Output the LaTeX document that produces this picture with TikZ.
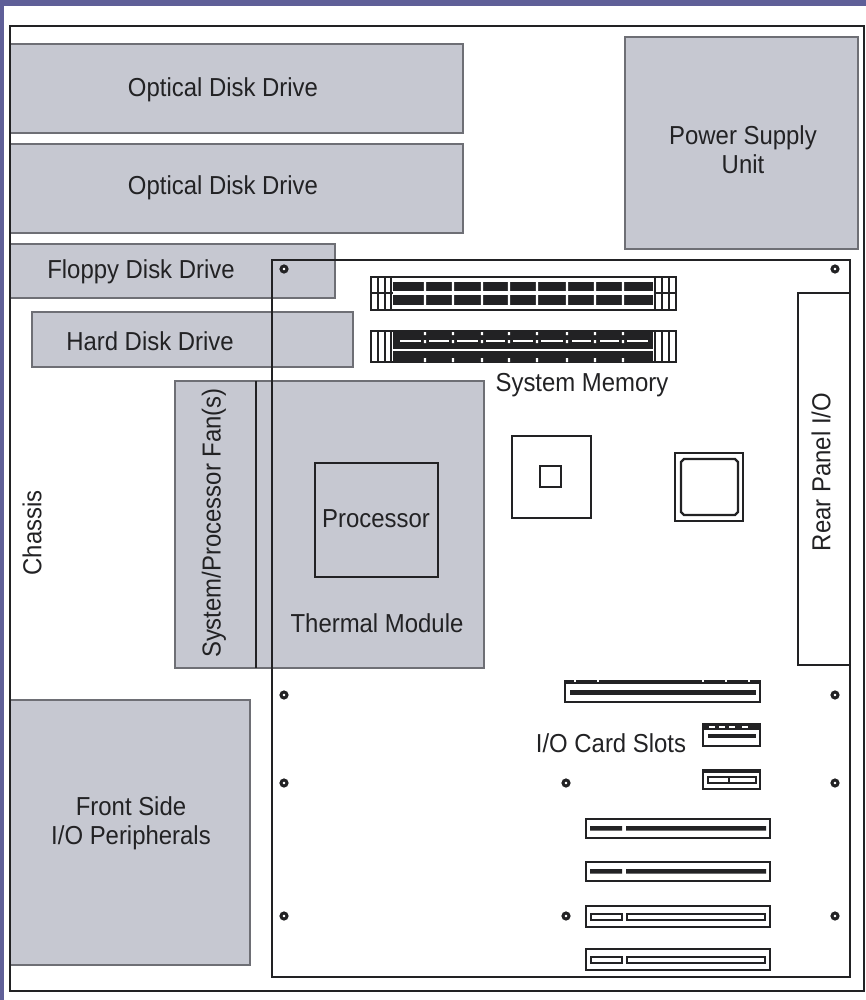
\documentclass[tikz,border=0pt]{standalone}
\usepackage{fontspec}
\setmainfont[FakeStretch=0.92]{Liberation Sans}
\definecolor{barpurple}{HTML}{5F5F98}
\definecolor{panelgrey}{HTML}{C6C8D1}
\definecolor{paneledge}{HTML}{6E6F75}
\definecolor{inkdark}{HTML}{222224}
\tikzset{
  panel/.style={draw=paneledge,fill=panelgrey,line width=2.4pt,anchor=north west,inner sep=0pt,outer sep=0pt},
  hollow/.style={draw=inkdark,line width=2.2pt,anchor=north west,inner sep=0pt,outer sep=0pt,fill=none},
  label/.style={text=inkdark,font=\fontsize{26}{29}\selectfont,align=center,inner sep=0pt},
  hole/.style={circle,draw=inkdark,line width=3pt,fill=white,minimum size=6pt,inner sep=0pt},
}
\newcommand{\boxat}[7][hollow]{\node[#1,minimum width=#5pt-#3pt,minimum height=#6pt-#4pt] (#2) at (#3,#4) {#7};}
\begin{document}
\begin{tikzpicture}[x=1pt,y=-1pt]
\useasboundingbox (0,0) rectangle (866,1000);
\fill[white] (0,0) rectangle (866,1000);
\fill[barpurple] (0,0) rectangle (866,6);
\fill[barpurple] (0,0) rectangle (4,1000);
% panels
\boxat[panel]{optA}{10}{44}{463}{133}{}
\boxat[panel]{optB}{10}{144}{463}{233}{}
\boxat[panel]{psu}{625}{37}{858}{249}{}
\boxat[panel]{floppy}{10}{244}{335}{298}{}
\boxat[panel]{hdd}{32}{312}{353}{367}{}
\boxat[panel]{thermal}{175}{381}{484}{668}{}
\boxat[panel]{front}{10}{700}{250}{965}{}
% chassis and board
\boxat{chassis}{10}{26}{864}{991}{}
\boxat{board}{272}{260}{850}{977}{}
\boxat{rear}{798}{293}{850}{665}{}
\boxat{cpu}{315}{463}{438}{577}{}
\coordinate (fanT) at (256,381);
\coordinate (fanB) at (256,668);
\draw[draw=inkdark,line width=2.2pt] (fanT) -- (fanB);
% memory slot 1
\boxat{dimmA}{371}{277}{676}{310}{}
\foreach \x in {378,385,391,655,662,669} \draw[inkdark,line width=2.2pt] (\x,277) -- (\x,310);
\draw[inkdark,line width=1.8pt] (371,293) -- (393,293) (654,293) -- (676,293);
\fill[inkdark] (393,282) rectangle (653,291);
\fill[inkdark] (393,295) rectangle (653,305);
\foreach \x in {425,453,482,509,537,567,595,623} \fill[white] (\x-1.2,282) rectangle (\x+1.2,291) (\x-1.2,295) rectangle (\x+1.2,305);
% memory slot 2
\boxat{dimmB}{371}{331}{676}{362}{}
\foreach \x in {378,385,391,655,662,669} \draw[inkdark,line width=2.2pt] (\x,331) -- (\x,362);
\fill[inkdark] (393,331) rectangle (653,362);
\fill[white] (393,348.5) rectangle (653,350.5);
\foreach \a/\b in {400/421,429/449,457/478,486/505,513/533,541/563,572/591,600/619,627/648} \fill[white] (\a,340) rectangle (\b,342);
\foreach \x in {425,453,482,509,537,567,595,623} \fill[white] (\x-1.2,332) rectangle (\x+1.2,335) (\x-1.2,340) rectangle (\x+1.2,343) (\x-1.2,358) rectangle (\x+1.2,362);
% chips
\boxat{north}{512}{436}{591}{518}{}
\boxat{die}{540}{466}{561}{487}{}
\boxat{south}{675}{453}{743}{521}{}
\draw[draw=inkdark,line width=2.2pt] (684,459) -- (735,459) -- (738,462) -- (738,512) -- (735,515) -- (684,515) -- (681,512) -- (681,462) -- cycle;
% AGP-like slot
\boxat{slotA}{565}{681}{760}{702}{}
\fill[inkdark] (565,680) rectangle (760,684);
\foreach \x in {575,598,703,726,749} \fill[white] (\x-1,680) rectangle (\x+1,682);
\fill[inkdark] (570,690) rectangle (756,695);
% small slots
\boxat{slotB}{703}{724}{760}{746}{}
\fill[inkdark] (703,724) rectangle (760,730);
\foreach \x in {709,719,729,742} \fill[white] (\x,726) rectangle (\x+6,728);
\fill[inkdark] (708,734) rectangle (756,738);
\boxat{slotC}{703}{770}{760}{789}{}
\fill[inkdark] (703,770) rectangle (760,773);
\boxat{slotCl}{708}{777}{729}{783}{}
\boxat{slotCr}{729}{777}{756}{783}{}
% PCI slots
\boxat{pciA}{586}{819}{770}{838}{}
\fill[inkdark] (590,826) rectangle (622,830.5) (626,826) rectangle (766,830.5);
\boxat{pciB}{586}{862}{770}{881}{}
\fill[inkdark] (590,869) rectangle (622,873.5) (626,869) rectangle (766,873.5);
\boxat{pciC}{586}{906}{770}{927}{}
\boxat{pciCl}{591}{914}{622}{920}{}
\boxat{pciCr}{627}{914}{765}{920}{}
\boxat{pciD}{586}{949}{770}{970}{}
\boxat{pciDl}{591}{957}{622}{963}{}
\boxat{pciDr}{627}{957}{765}{963}{}
% mounting holes
\foreach \n/\x/\y in {ha/284/269,hb/835/269,hc/284/695,hd/835/695,he/284/783,hf/566/783,hg/835/783,hh/284/916,hi/566/916,hj/835/916}
  \node[hole] (\n) at (\x,\y) {};
% labels
\node[label] (tOptA) at (223,90) {Optical Disk Drive};
\node[label] (tOptB) at (223,188) {Optical Disk Drive};
\node[label] (tPsu) at (743,150) {Power Supply\\Unit};
\node[label] (tFloppy) at (141,272) {Floppy Disk Drive};
\node[label] (tHdd) at (150,341) {Hard Disk Drive};
\node[label] (tMem) at (582,385) {System Memory};
\node[label,rotate=90] (tRear) at (821,472) {Rear Panel I/O};
\node[label,rotate=90] (tFan) at (214,523) {System/Processor Fan(s)};
\node[label,rotate=90] (tChassis) at (32,533) {Chassis};
\node[label] (tCpu) at (376,519) {Processor};
\node[label] (tTherm) at (377,623) {Thermal Module};
\node[label] (tSlots) at (611,743) {I/O Card Slots};
\node[label] (tFront) at (131,823) {Front Side\\I/O Peripherals};
\end{tikzpicture}
\end{document}
